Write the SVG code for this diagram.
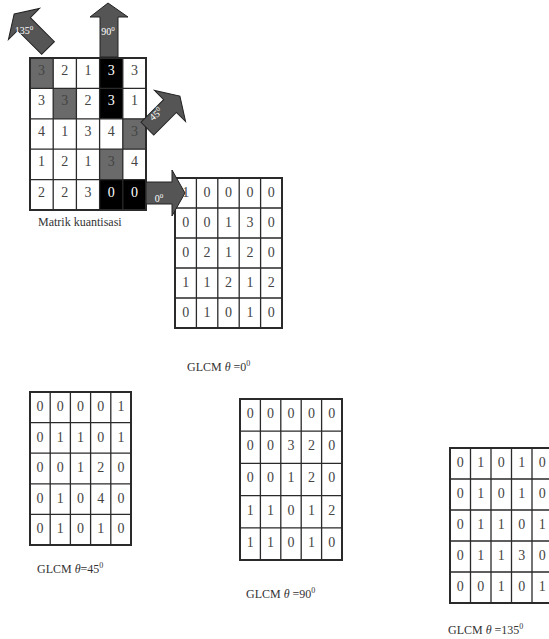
<svg xmlns="http://www.w3.org/2000/svg" width="549" height="639" viewBox="0 0 549 639">
<style>
.grid{fill:none;stroke:#2a2a2a;stroke-width:1.3}
.outer{fill:none;stroke:#2a2a2a;stroke-width:2}
.n{font-family:"Liberation Serif","Times New Roman",serif;font-size:14px;fill:#444;text-anchor:middle}
.w{fill:#fff}
.g{fill:#6a6a6a}
.k{fill:#000}
.cap{font-family:"Liberation Serif","Times New Roman",serif;font-size:12px;fill:#333}
.arrow{fill:#555;stroke:#222;stroke-width:1}
.al{font-family:"Liberation Serif","Times New Roman",serif;font-size:10px;fill:#fff;text-anchor:middle}
</style>
<rect width="549" height="639" fill="#fff"/>

<g id="matrik-kuantisasi">
<rect class="g" x="30" y="58" width="23.2" height="30.4"/>
<rect class="g" x="53.2" y="88.4" width="23.2" height="30.4"/>
<rect class="k" x="99.6" y="58" width="23.2" height="60.8"/>
<rect class="g" x="122.8" y="118.8" width="23.2" height="30.4"/>
<rect class="g" x="99.6" y="149.2" width="23.2" height="30.4"/>
<rect class="k" x="99.6" y="179.6" width="46.4" height="30.4"/>
<path class="grid" d="M53.2 58V210M76.4 58V210M99.6 58V210M122.8 58V210M30 88.4H146M30 118.8H146M30 149.2H146M30 179.6H146"/>
<rect class="outer" x="30" y="58" width="116" height="152"/>
<text class="n" y="75"><tspan x="41.6">3</tspan><tspan x="64.8">2</tspan><tspan x="88">1</tspan><tspan x="111.2" class="w">3</tspan><tspan x="134.4">3</tspan></text>
<text class="n" y="105.4"><tspan x="41.6">3</tspan><tspan x="64.8">3</tspan><tspan x="88">2</tspan><tspan x="111.2" class="w">3</tspan><tspan x="134.4">1</tspan></text>
<text class="n" y="135.8"><tspan x="41.6">4</tspan><tspan x="64.8">1</tspan><tspan x="88">3</tspan><tspan x="111.2">4</tspan><tspan x="134.4">3</tspan></text>
<text class="n" y="166.2"><tspan x="41.6">1</tspan><tspan x="64.8">2</tspan><tspan x="88">1</tspan><tspan x="111.2">3</tspan><tspan x="134.4">4</tspan></text>
<text class="n" y="196.6"><tspan x="41.6">2</tspan><tspan x="64.8">2</tspan><tspan x="88">3</tspan><tspan x="111.2" class="w">0</tspan><tspan x="134.4" class="w">0</tspan></text>
<text class="cap" x="38" y="226" font-size="13">Matrik kuantisasi</text>
</g>

<g id="glcm-0">
<path class="grid" d="M196.4 178V328M217.8 178V328M239.2 178V328M260.6 178V328M175 208H282M175 238H282M175 268H282M175 298H282"/>
<rect class="outer" x="175" y="178" width="107" height="150"/>
<text class="n" y="197"><tspan x="185.7">1</tspan><tspan x="207.1">0</tspan><tspan x="228.5">0</tspan><tspan x="249.9">0</tspan><tspan x="271.3">0</tspan></text>
<text class="n" y="227"><tspan x="185.7">0</tspan><tspan x="207.1">0</tspan><tspan x="228.5">1</tspan><tspan x="249.9">3</tspan><tspan x="271.3">0</tspan></text>
<text class="n" y="257"><tspan x="185.7">0</tspan><tspan x="207.1">2</tspan><tspan x="228.5">1</tspan><tspan x="249.9">2</tspan><tspan x="271.3">0</tspan></text>
<text class="n" y="287"><tspan x="185.7">1</tspan><tspan x="207.1">1</tspan><tspan x="228.5">2</tspan><tspan x="249.9">1</tspan><tspan x="271.3">2</tspan></text>
<text class="n" y="317"><tspan x="185.7">0</tspan><tspan x="207.1">1</tspan><tspan x="228.5">0</tspan><tspan x="249.9">1</tspan><tspan x="271.3">0</tspan></text>
<text class="cap" x="187" y="371">GLCM <tspan font-style="italic">θ</tspan> =0<tspan font-size="8" dy="-5">0</tspan></text>
</g>

<g id="glcm-45">
<path class="grid" d="M50.2 392V545M70.4 392V545M90.6 392V545M110.8 392V545M30 422.6H131M30 453.2H131M30 483.8H131M30 514.4H131"/>
<rect class="outer" x="30" y="392" width="101" height="153"/>
<text class="n" y="411"><tspan x="40.1">0</tspan><tspan x="60.3">0</tspan><tspan x="80.5">0</tspan><tspan x="100.7">0</tspan><tspan x="120.9">1</tspan></text>
<text class="n" y="441.6"><tspan x="40.1">0</tspan><tspan x="60.3">1</tspan><tspan x="80.5">1</tspan><tspan x="100.7">0</tspan><tspan x="120.9">1</tspan></text>
<text class="n" y="472.2"><tspan x="40.1">0</tspan><tspan x="60.3">0</tspan><tspan x="80.5">1</tspan><tspan x="100.7">2</tspan><tspan x="120.9">0</tspan></text>
<text class="n" y="502.8"><tspan x="40.1">0</tspan><tspan x="60.3">1</tspan><tspan x="80.5">0</tspan><tspan x="100.7">4</tspan><tspan x="120.9">0</tspan></text>
<text class="n" y="533.4"><tspan x="40.1">0</tspan><tspan x="60.3">1</tspan><tspan x="80.5">0</tspan><tspan x="100.7">1</tspan><tspan x="120.9">0</tspan></text>
<text class="cap" x="37" y="573">GLCM <tspan font-style="italic">θ</tspan>=45<tspan font-size="8" dy="-5">0</tspan></text>
</g>

<g id="glcm-90">
<path class="grid" d="M260.4 399V560M280.8 399V560M301.2 399V560M321.6 399V560M240 431.2H342M240 463.4H342M240 495.6H342M240 527.8H342"/>
<rect class="outer" x="240" y="399" width="102" height="161"/>
<text class="n" y="418"><tspan x="250.2">0</tspan><tspan x="270.6">0</tspan><tspan x="291">0</tspan><tspan x="311.4">0</tspan><tspan x="331.8">0</tspan></text>
<text class="n" y="450.2"><tspan x="250.2">0</tspan><tspan x="270.6">0</tspan><tspan x="291">3</tspan><tspan x="311.4">2</tspan><tspan x="331.8">0</tspan></text>
<text class="n" y="482.4"><tspan x="250.2">0</tspan><tspan x="270.6">0</tspan><tspan x="291">1</tspan><tspan x="311.4">2</tspan><tspan x="331.8">0</tspan></text>
<text class="n" y="514.6"><tspan x="250.2">1</tspan><tspan x="270.6">1</tspan><tspan x="291">0</tspan><tspan x="311.4">1</tspan><tspan x="331.8">2</tspan></text>
<text class="n" y="546.8"><tspan x="250.2">1</tspan><tspan x="270.6">1</tspan><tspan x="291">0</tspan><tspan x="311.4">1</tspan><tspan x="331.8">0</tspan></text>
<text class="cap" x="246" y="598">GLCM <tspan font-style="italic">θ</tspan> =90<tspan font-size="8" dy="-5">0</tspan></text>
</g>

<g id="glcm-135">
<path class="grid" d="M470.5 448V603M491 448V603M511.5 448V603M532 448V603M450 479H552.5M450 510H552.5M450 541H552.5M450 572H552.5"/>
<rect class="outer" x="450" y="448" width="102.5" height="155"/>
<text class="n" y="467"><tspan x="460.25">0</tspan><tspan x="480.75">1</tspan><tspan x="501.25">0</tspan><tspan x="521.75">1</tspan><tspan x="542.25">0</tspan></text>
<text class="n" y="498"><tspan x="460.25">0</tspan><tspan x="480.75">1</tspan><tspan x="501.25">0</tspan><tspan x="521.75">1</tspan><tspan x="542.25">0</tspan></text>
<text class="n" y="529"><tspan x="460.25">0</tspan><tspan x="480.75">1</tspan><tspan x="501.25">1</tspan><tspan x="521.75">0</tspan><tspan x="542.25">1</tspan></text>
<text class="n" y="560"><tspan x="460.25">0</tspan><tspan x="480.75">1</tspan><tspan x="501.25">1</tspan><tspan x="521.75">3</tspan><tspan x="542.25">0</tspan></text>
<text class="n" y="591"><tspan x="460.25">0</tspan><tspan x="480.75">0</tspan><tspan x="501.25">1</tspan><tspan x="521.75">0</tspan><tspan x="542.25">1</tspan></text>
<text class="cap" x="448" y="634">GLCM <tspan font-style="italic">θ</tspan> =135<tspan font-size="8" dy="-5">0</tspan></text>
</g>

<g id="connectors">
<g id="arrow-135">
<polygon class="arrow" transform="translate(24 24) rotate(-45)" points="0,-14 22,0 9,0 9,34 -9,34 -9,0 -22,0"/>
<text class="al" x="24" y="34">135<tspan font-size="7" dy="-4">0</tspan></text>
</g>
<g id="arrow-90">
<polygon class="arrow" points="108,3 128,17 118,17 118,57 100,57 100,17 90,17"/>
<text class="al" x="108" y="35">90<tspan font-size="7" dy="-4">0</tspan></text>
</g>
<g id="arrow-45">
<polygon class="arrow" transform="translate(170 106) rotate(45)" points="0,-14 22,0 9,0 9,32 -9,32 -9,0 -22,0"/>
<text class="al" transform="translate(158 117) rotate(-40)">45<tspan font-size="7" dy="-4">0</tspan></text>
</g>
<g id="arrow-0">
<polygon class="arrow" transform="translate(172 193) rotate(90)" points="0,-13 23,0 11,0 11,26 -11,26 -11,0 -23,0"/>
<text class="al" x="159" y="202">0<tspan font-size="7" dy="-4">0</tspan></text>
</g>
</g>
</svg>
